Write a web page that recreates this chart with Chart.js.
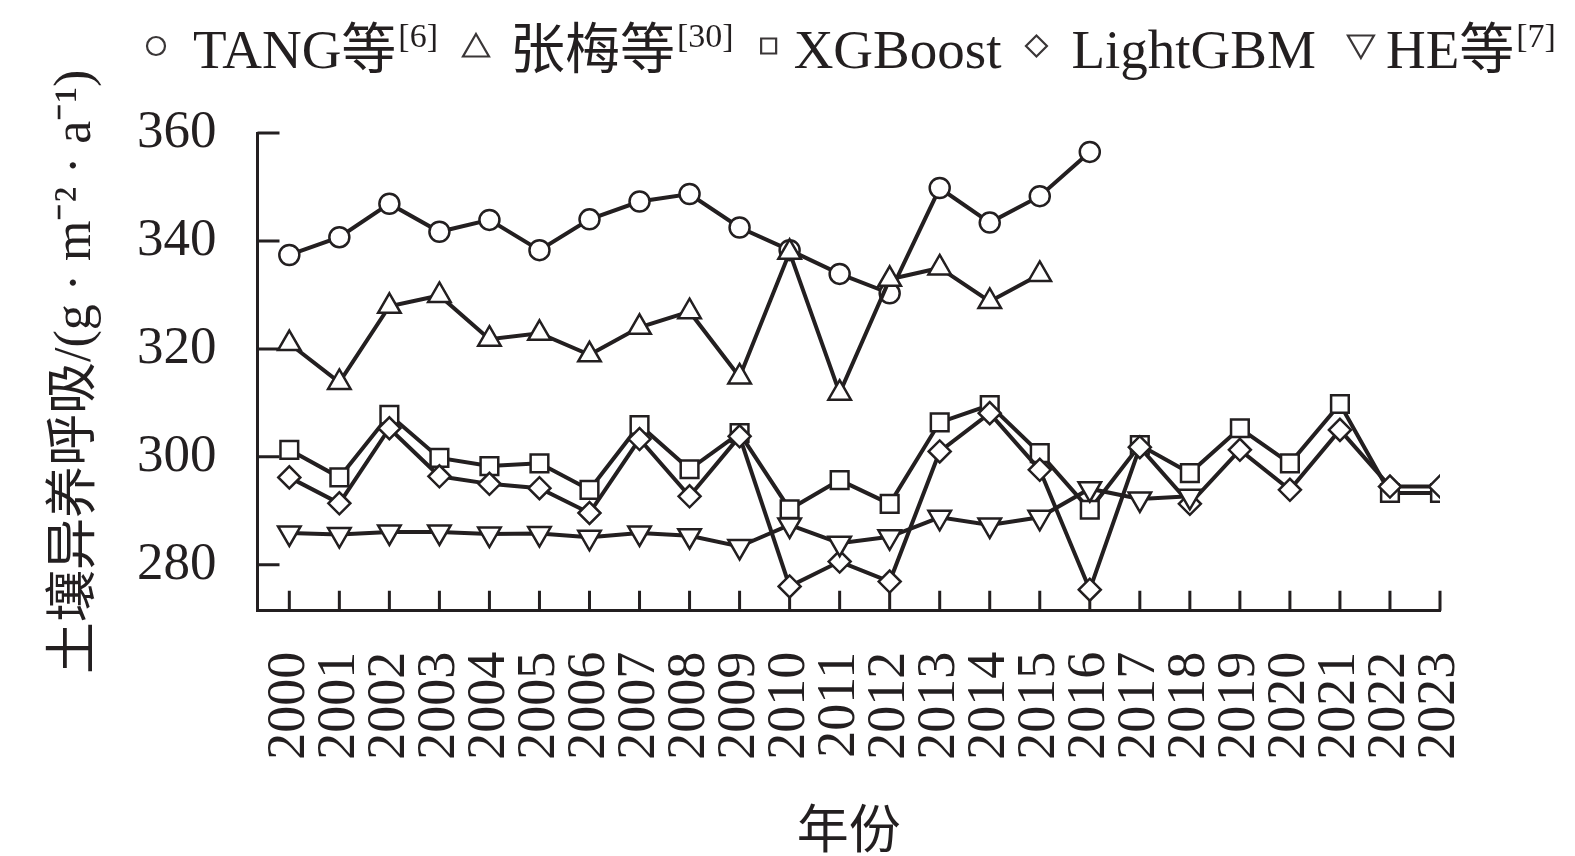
<!DOCTYPE html>
<html>
<head>
<meta charset="utf-8">
<script src="https://cdn.jsdelivr.net/npm/chart.js@4.4.1/dist/chart.umd.min.js"></script>
<style>
  html, body { margin: 0; padding: 0; background: #fff; }
</style>
</head>
<body>
<canvas id="chartRespiration" width="1575" height="856"></canvas>
<script>
// Années (axe des x)
const annees = [2000, 2001, 2002, 2003, 2004, 2005, 2006, 2007, 2008, 2009, 2010, 2011,
                2012, 2013, 2014, 2015, 2016, 2017, 2018, 2019, 2020, 2021, 2022, 2023];

// Séries (g·m-2·a-1)
const tang = [337.4, 340.7, 346.9, 341.7, 343.9, 338.3, 344.0, 347.3, 348.7, 342.5, 338.3, 333.9,
              330.3, 349.8, 343.4, 348.3, 356.5];
const zhangMei = [321.0, 313.8, 327.9, 329.9, 321.8, 322.9, 318.9, 324.0, 326.9, 314.8, 337.9, 311.8,
                  332.9, 335.0, 328.8, 333.8];
const xgboost = [301.3, 296.2, 307.8, 299.8, 298.3, 298.8, 293.9, 305.9, 297.7, 304.4, 290.3, 295.7,
                 291.3, 306.4, 309.6, 300.7, 290.2, 302.2, 297.0, 305.3, 298.8, 309.8, 293.3, 293.3];
const lightgbm = [296.2, 291.4, 305.3, 296.4, 295.0, 294.2, 289.6, 303.3, 292.7, 303.8, 276.0, 280.6,
                  276.9, 301.0, 308.1, 297.6, 275.4, 301.8, 291.3, 301.3, 293.9, 305.0, 294.5, 294.5];
const he = [285.9, 285.6, 286.1, 286.1, 285.7, 285.8, 285.1, 285.9, 285.4, 283.4, 287.4, 284.0,
            285.2, 288.8, 287.4, 288.8, 294.1, 292.2, 292.7];

// Graduations de l'axe des y
const yTicks = [280, 300, 320, 340, 360];

const NOIR = '#231f20';
const policeSerif = "'Liberation Serif', 'Noto Sans CJK SC', serif";

// Légende : texte principal + référence en exposant
// (ecart = distance marqueur -> texte, apres = distance fin de texte -> marqueur suivant)
const legende = [
    { texte: 'TANG等', exposant: '[6]', style: 'circle', rayon: 9, rotation: 0, ecart: 37, apres: 38 },
    { texte: '张梅等', exposant: '[30]', style: 'triangle', rayon: 15, rotation: 0, ecart: 34, apres: 35 },
    { texte: 'XGBoost', exposant: '', style: 'rect', rayon: 7.5, rotation: 0, ecart: 25, apres: 35 },
    { texte: 'LightGBM', exposant: '', style: 'rectRot', rayon: 10.5, rotation: 0, ecart: 35, apres: 45 },
    { texte: 'HE等', exposant: '[7]', style: 'triangle', rayon: 15, rotation: 180, ecart: 25, apres: 0 }
];

function versPoints(valeurs) {
    return valeurs.map((v, i) => ({ x: annees[i], y: v }));
}

function serie(label, valeurs, style, rayon, rotation, ordre) {
    return {
        label: label,
        data: versPoints(valeurs),
        borderColor: NOIR,
        borderWidth: 4,
        pointStyle: style,
        pointRadius: rayon,
        pointRotation: rotation,
        pointBackgroundColor: '#fff',
        pointBorderColor: NOIR,
        pointBorderWidth: 2.5,
        tension: 0,
        order: ordre
    };
}

// Petits traits de graduation tournés vers l'intérieur
const ticksInterieurs = {
    id: 'ticksInterieurs',
    beforeDatasetsDraw(chart) {
        const ctx = chart.ctx;
        const xs = chart.scales.x;
        const ys = chart.scales.y;
        const area = chart.chartArea;
        ctx.save();
        ctx.strokeStyle = NOIR;
        ctx.lineWidth = 3;
        ctx.beginPath();
        annees.forEach(a => {
            const px = xs.getPixelForValue(a);
            ctx.moveTo(px, area.bottom);
            ctx.lineTo(px, area.bottom - 20);
        });
        yTicks.forEach(t => {
            const py = ys.getPixelForValue(t);
            ctx.moveTo(area.left, py);
            ctx.lineTo(area.left + 22, py);
        });
        ctx.stroke();
        ctx.restore();
    }
};

function dessinerMarqueur(ctx, style, x, y, r, rotation) {
    ctx.beginPath();
    if (style === 'circle') {
        ctx.arc(x, y, r, 0, Math.PI * 2);
    } else if (style === 'rect') {
        ctx.rect(x - r, y - r, r * 2, r * 2);
    } else if (style === 'rectRot') {
        ctx.moveTo(x, y - r);
        ctx.lineTo(x + r, y);
        ctx.lineTo(x, y + r);
        ctx.lineTo(x - r, y);
        ctx.closePath();
    } else {
        // triangle équilatéral (pointe en haut, ou en bas si rotation)
        const s = rotation ? -1 : 1;
        ctx.moveTo(x, y - s * r);
        ctx.lineTo(x + r * 0.866, y + s * r * 0.5);
        ctx.lineTo(x - r * 0.866, y + s * r * 0.5);
        ctx.closePath();
    }
    ctx.fillStyle = '#fff';
    ctx.fill();
    ctx.stroke();
}

// Légende dessinée à la main (exposants)
const legendeHaut = {
    id: 'legendeHaut',
    afterDraw(chart) {
        const ctx = chart.ctx;
        ctx.save();
        ctx.strokeStyle = '#3a3637';
        ctx.lineWidth = 2.2;
        ctx.textBaseline = 'alphabetic';
        let x = 156;  // centre du premier marqueur
        const base = 68;
        legende.forEach(item => {
            const yc = item.style === 'triangle' ? (item.rotation ? 43 : 49) : 46;
            dessinerMarqueur(ctx, item.style, x, yc, item.rayon, item.rotation);
            x += item.ecart;
            ctx.fillStyle = NOIR;
            ctx.font = '55px ' + policeSerif;
            ctx.fillText(item.texte, x, base);
            x += ctx.measureText(item.texte).width;
            if (item.exposant) {
                ctx.font = '34px ' + policeSerif;
                ctx.fillText(item.exposant, x + 2, base - 21);
                x += ctx.measureText(item.exposant).width + 2;
            }
            x += item.apres;
        });
        ctx.restore();
    }
};

const canvas = document.getElementById('chartRespiration');

const chart = new Chart(canvas, {
    type: 'line',
    data: {
        datasets: [
            serie('TANG等[6]', tang, 'circle', 10, 0, 5),
            serie('张梅等[30]', zhangMei, 'triangle', 13, 0, 4),
            serie('XGBoost', xgboost, 'rect', 12.5, 0, 3),
            serie('LightGBM', lightgbm, 'rectRot', 11, 0, 2),
            serie('HE等[7]', he, 'triangle', 13, 180, 1)
        ]
    },
    options: {
        responsive: false,
        animation: false,
        layout: {
            padding: { top: 133, right: 135, left: 0, bottom: 0 }
        },
        plugins: {
            legend: { display: false },
            tooltip: { enabled: false }
        },
        scales: {
            x: {
                type: 'linear',
                min: 1999.364,
                max: 2023,
                afterBuildTicks: scale => {
                    scale.ticks = annees.map(a => ({ value: a }));
                },
                afterFit: scale => { scale.height = 245.3; },
                grid: { display: false, drawTicks: false },
                border: { display: true, color: NOIR, width: 3 },
                ticks: {
                    autoSkip: false,
                    maxRotation: 90,
                    minRotation: 90,
                    padding: 41,
                    color: NOIR,
                    font: { family: policeSerif, size: 54 },
                    callback: v => String(v)
                },
                title: {
                    display: true,
                    text: '年份',
                    color: NOIR,
                    padding: 0,
                    font: { family: policeSerif, size: 52, lineHeight: 0.85 }
                }
            },
            y: {
                min: 271.5,
                max: 360,
                afterBuildTicks: scale => {
                    scale.ticks = yTicks.map(t => ({ value: t }));
                },
                afterFit: scale => { scale.width = 257.5; },
                grid: { display: false, drawTicks: false },
                border: { display: true, color: NOIR, width: 3 },
                ticks: {
                    padding: 41,
                    color: NOIR,
                    font: { family: policeSerif, size: 53 },
                    callback: v => String(v)
                },
                title: {
                    display: true,
                    text: '土壤异养呼吸/(g · m⁻² · a⁻¹)',
                    color: NOIR,
                    padding: { top: 45, bottom: 0 },
                    font: { family: policeSerif, size: 52, lineHeight: 1.2 }
                }
            }
        }
    },
    plugins: [ticksInterieurs, legendeHaut]
});
</script>
</body>
</html>
